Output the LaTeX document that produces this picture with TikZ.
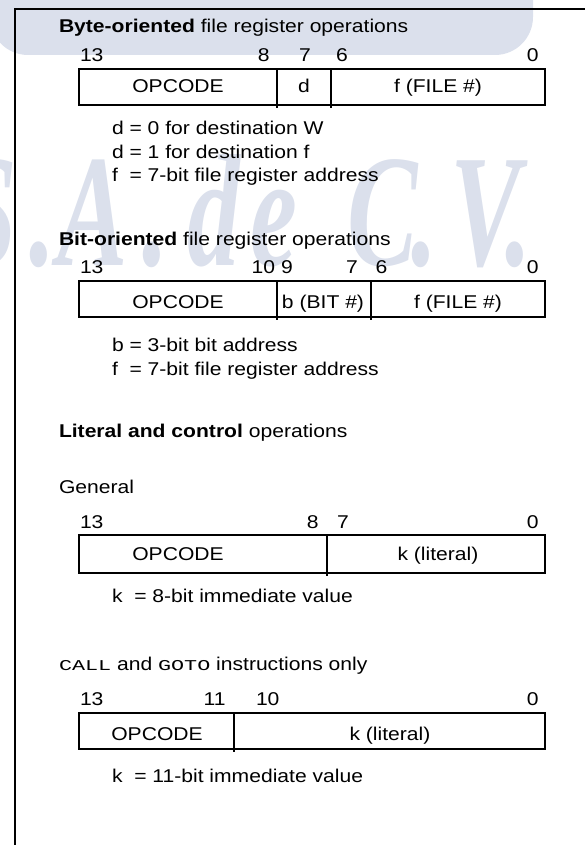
\documentclass[tikz,border=0pt]{standalone}
\usepackage{fontspec}
\setmainfont{Liberation Sans}[FakeStretch=1.14]
\newfontfamily\cmono{Liberation Mono}[FakeStretch=1.45]
\newfontfamily\wmserif{Liberation Serif}[FakeStretch=0.66]
\definecolor{wm}{RGB}{219,224,236}
\newcommand\fsz{\fontsize{18.5}{22}\selectfont}
\newcommand\wmfs{\wmserif\bfseries\itshape\fontsize{160}{160}\selectfont}
\begin{document}
\begin{tikzpicture}[x=1pt,y=-1pt,
  t/.style={inner sep=0pt, outer sep=0pt, font=\fsz, anchor=base west},
  tc/.style={inner sep=0pt, outer sep=0pt, font=\fsz, anchor=base},
  te/.style={inner sep=0pt, outer sep=0pt, font=\fsz, anchor=base east},
  frame/.style={line width=2.6pt},
  reg/.style={draw, line width=2.2pt},
  sep/.style={line width=2pt},
  wmk/.style={inner sep=0pt, outer sep=0pt, anchor=base west, text=wm, font=\wmfs}]
\useasboundingbox (0,0) rectangle (585,845);
% watermark
\fill[wm, rounded corners=38pt] (-10,-60) rectangle (533,55);
\node[wmk] (w1) at (-41,265) {S};
\node[wmk] (w2) at (29,265) {.};
\node[wmk] (w3) at (57,265) {A};
\node[wmk] (w4) at (142,265) {.};
\node[wmk] (w5) at (187,265) {d};
\node[wmk] (w6) at (250,265) {e};
\node[wmk] (w7) at (347,265) {C};
\node[wmk] (w8) at (411,265) {.};
\node[wmk] (w9) at (450,265) {V};
\node[wmk] (w10) at (505,265) {.};
% frame
\draw[frame] (15,850) -- (15,9) -- (590,9);

% ---- Byte-oriented
\node[t] (h1) at (59,33) {\textbf{Byte-oriented} file register operations};
\node[t] (a13) at (80,62) {13};
\node[te] (a8) at (269.5,62) {8};
\node[t] (a7) at (299,62) {7};
\node[t] (a6) at (336,62) {6};
\node[te] (a0) at (538.5,62) {0};
\draw[reg] (79,69) rectangle (545,105);
\draw[sep] (277,69) -- (277,108);
\draw[sep] (331,69) -- (331,108);
\node[tc] (aop) at (178,93) {OPCODE};
\node[tc] (ad) at (304,93) {d};
\node[tc] (af) at (438,93) {f (FILE \#)};
\node[t] (an1) at (112,135) {d = 0 for destination W};
\node[t] (an2) at (112,158.5) {d = 1 for destination f};
\node[t] (an3) at (112,182) {f\ \ = 7-bit file register address};

% ---- Bit-oriented
\node[t] (h2) at (59,245) {\textbf{Bit-oriented} file register operations};
\node[t] (b13) at (80,273) {13};
\node[te] (b10) at (275,273) {10};
\node[t] (b9) at (281,273) {9};
\node[t] (b7) at (346,273) {7};
\node[t] (b6) at (375.5,273) {6};
\node[te] (b0) at (538.5,273) {0};
\draw[reg] (79,281) rectangle (545,317);
\draw[sep] (277,281) -- (277,320);
\draw[sep] (371,281) -- (371,320);
\node[tc] (bop) at (178,308) {OPCODE};
\node[tc] (bb) at (323,308) {b (BIT \#)};
\node[tc] (bf) at (458,308) {f (FILE \#)};
\node[t] (bn1) at (112,351) {b = 3-bit bit address};
\node[t] (bn2) at (112,375) {f\ \ = 7-bit file register address};

% ---- Literal and control
\node[t] (h3) at (59,437) {\textbf{Literal and control} operations};
\node[t] (gen) at (59,493) {General};
\node[t] (c13) at (80,528) {13};
\node[te] (c8) at (318.5,528) {8};
\node[t] (c7) at (337,528) {7};
\node[te] (c0) at (538.5,528) {0};
\draw[reg] (79,535) rectangle (545,573);
\draw[sep] (327,535) -- (327,576);
\node[tc] (cop) at (178,560) {OPCODE};
\node[tc] (ck) at (438,560) {k (literal)};
\node[t] (cn1) at (112,602) {k\ \ = 8-bit immediate value};

% ---- CALL and GOTO
\node[t] (h4) at (59,670) {{\cmono\fontsize{15}{18}\selectfont CALL} and {\cmono\fontsize{15}{18}\selectfont GOTO} instructions only};
\node[t] (d13) at (80,705) {13};
\node[te] (d11) at (225.5,705) {11};
\node[t] (d10) at (256,705) {10};
\node[te] (d0) at (538.5,705) {0};
\draw[reg] (79,713) rectangle (545,749);
\draw[sep] (234,713) -- (234,752);
\node[tc] (dop) at (157,740) {OPCODE};
\node[tc] (dk) at (390,740) {k (literal)};
\node[t] (dn1) at (112,782) {k\ \ = 11-bit immediate value};
\end{tikzpicture}
\end{document}
